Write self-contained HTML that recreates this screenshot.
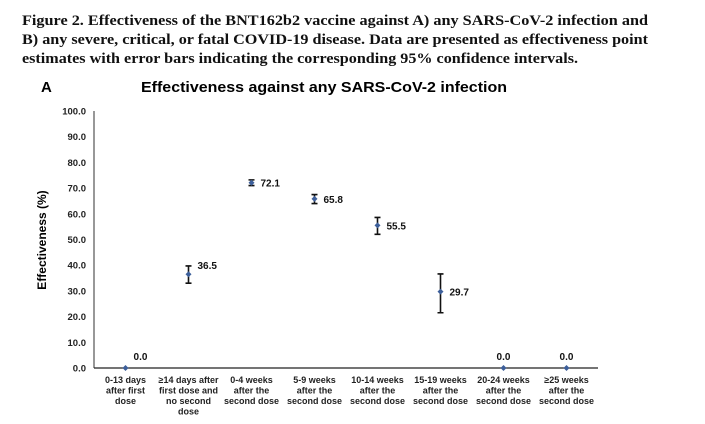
<!DOCTYPE html>
<html><head><meta charset="utf-8"><style>
body{margin:0;background:#fff;}
svg{display:block;font-family:"Liberation Sans",Arial,sans-serif;}
</style></head><body>
<svg width="705" height="424" viewBox="0 0 705 424">
<g font-family="Liberation Serif,serif" font-weight="bold" font-size="15" fill="#111">
<text x="22" y="25" textLength="626" lengthAdjust="spacingAndGlyphs">Figure 2. Effectiveness of the BNT162b2 vaccine against A) any SARS-CoV-2 infection and</text>
<text x="22" y="44" textLength="626" lengthAdjust="spacingAndGlyphs">B) any severe, critical, or fatal COVID-19 disease. Data are presented as effectiveness point</text>
<text x="22" y="63" textLength="556" lengthAdjust="spacingAndGlyphs">estimates with error bars indicating the corresponding 95% confidence intervals.</text>
</g>
<text x="41" y="92" font-size="15" font-weight="bold">A</text>
<text x="141" y="92" font-size="15" font-weight="bold" textLength="366" lengthAdjust="spacingAndGlyphs">Effectiveness against any SARS-CoV-2 infection</text>
<text transform="translate(46,240) rotate(-90)" text-anchor="middle" font-size="12" font-weight="bold">Effectiveness (%)</text>
<g id="plot"></g>
</svg>
<script>
const categories=[["0-13 days","after first","dose"],["≥14 days after","first dose and","no second","dose"],["0-4 weeks","after the","second dose"],["5-9 weeks","after the","second dose"],["10-14 weeks","after the","second dose"],["15-19 weeks","after the","second dose"],["20-24 weeks","after the","second dose"],["≥25 weeks","after the","second dose"]];
const values=[0,36.5,72.1,65.8,55.5,29.7,0,0];
const lower=[0,33,71,64,52,21.5,0,0];
const upper=[0,39.7,73.2,67.5,58.6,36.6,0,0];
const yTicks=[0,10,20,30,40,50,60,70,80,90,100];
const tickLabels=["0.0","10.0","20.0","30.0","40.0","50.0","60.0","70.0","80.0","90.0","100.0"];
const NS="http://www.w3.org/2000/svg";
const g=document.getElementById('plot');
const x0=94,x1=598,y0=368,yTop=111;
const y=v=>y0-(v/100)*(y0-yTop);
const step=(x1-x0)/categories.length;
const x=i=>x0+step*(i+0.5);
function mk(t,a){const e=document.createElementNS(NS,t);for(const k in a)e.setAttribute(k,a[k]);g.appendChild(e);return e;}
let e=mk('line',{x1:x0,y1:yTop,x2:x0,y2:y0,stroke:'#777','stroke-width':1.5});


e=mk('line',{x1:x0,y1:y0,x2:x1,y2:y0,stroke:'#222','stroke-width':1.2});


yTicks.forEach((v,i)=>{
 const t=mk('text',{x:86,y:y(v)+3.5,'text-anchor':'end','font-size':9.5,'font-weight':'bold',fill:'#222'});
 t.textContent=tickLabels[i];
 
 
});
categories.forEach((lines,i)=>{
 const t=mk('text',{'text-anchor':'middle','font-size':9,'font-weight':'bold',fill:'#222'});
 
 
 lines.forEach((l,j)=>{const s=document.createElementNS(NS,'tspan');s.setAttribute('x',x(i));s.setAttribute('y',383+j*10.5);s.textContent=l;t.appendChild(s);});
});
values.forEach((v,i)=>{
 const cx=x(i);
 if(upper[i]>lower[i]){
  const eb=mk('path',{d:`M${cx-3},${y(upper[i])}H${cx+3}M${cx},${y(upper[i])}V${y(lower[i])}M${cx-3},${y(lower[i])}H${cx+3}`,stroke:'#111','stroke-width':1.6,fill:'none'});
  
  
 }
 const p=mk('path',{d:`M${cx},${y(v)-3}L${cx+3},${y(v)}L${cx},${y(v)+3}L${cx-3},${y(v)}Z`,fill:'#3d5f9a'});
 
 
 const lbl=mk('text',{'font-size':10,'font-weight':'bold',fill:'#111'});
 lbl.textContent=v.toFixed(1);
 
 
 if(v===0){lbl.setAttribute('x',cx);lbl.setAttribute('y',y(v)-8);lbl.setAttribute('text-anchor','middle');if(i===0)lbl.setAttribute('x',cx+15);}
 else{lbl.setAttribute('x',cx+9);lbl.setAttribute('y',(i===1?y(upper[i])+3:y(v)+4));}
});
</script>
</body></html>
